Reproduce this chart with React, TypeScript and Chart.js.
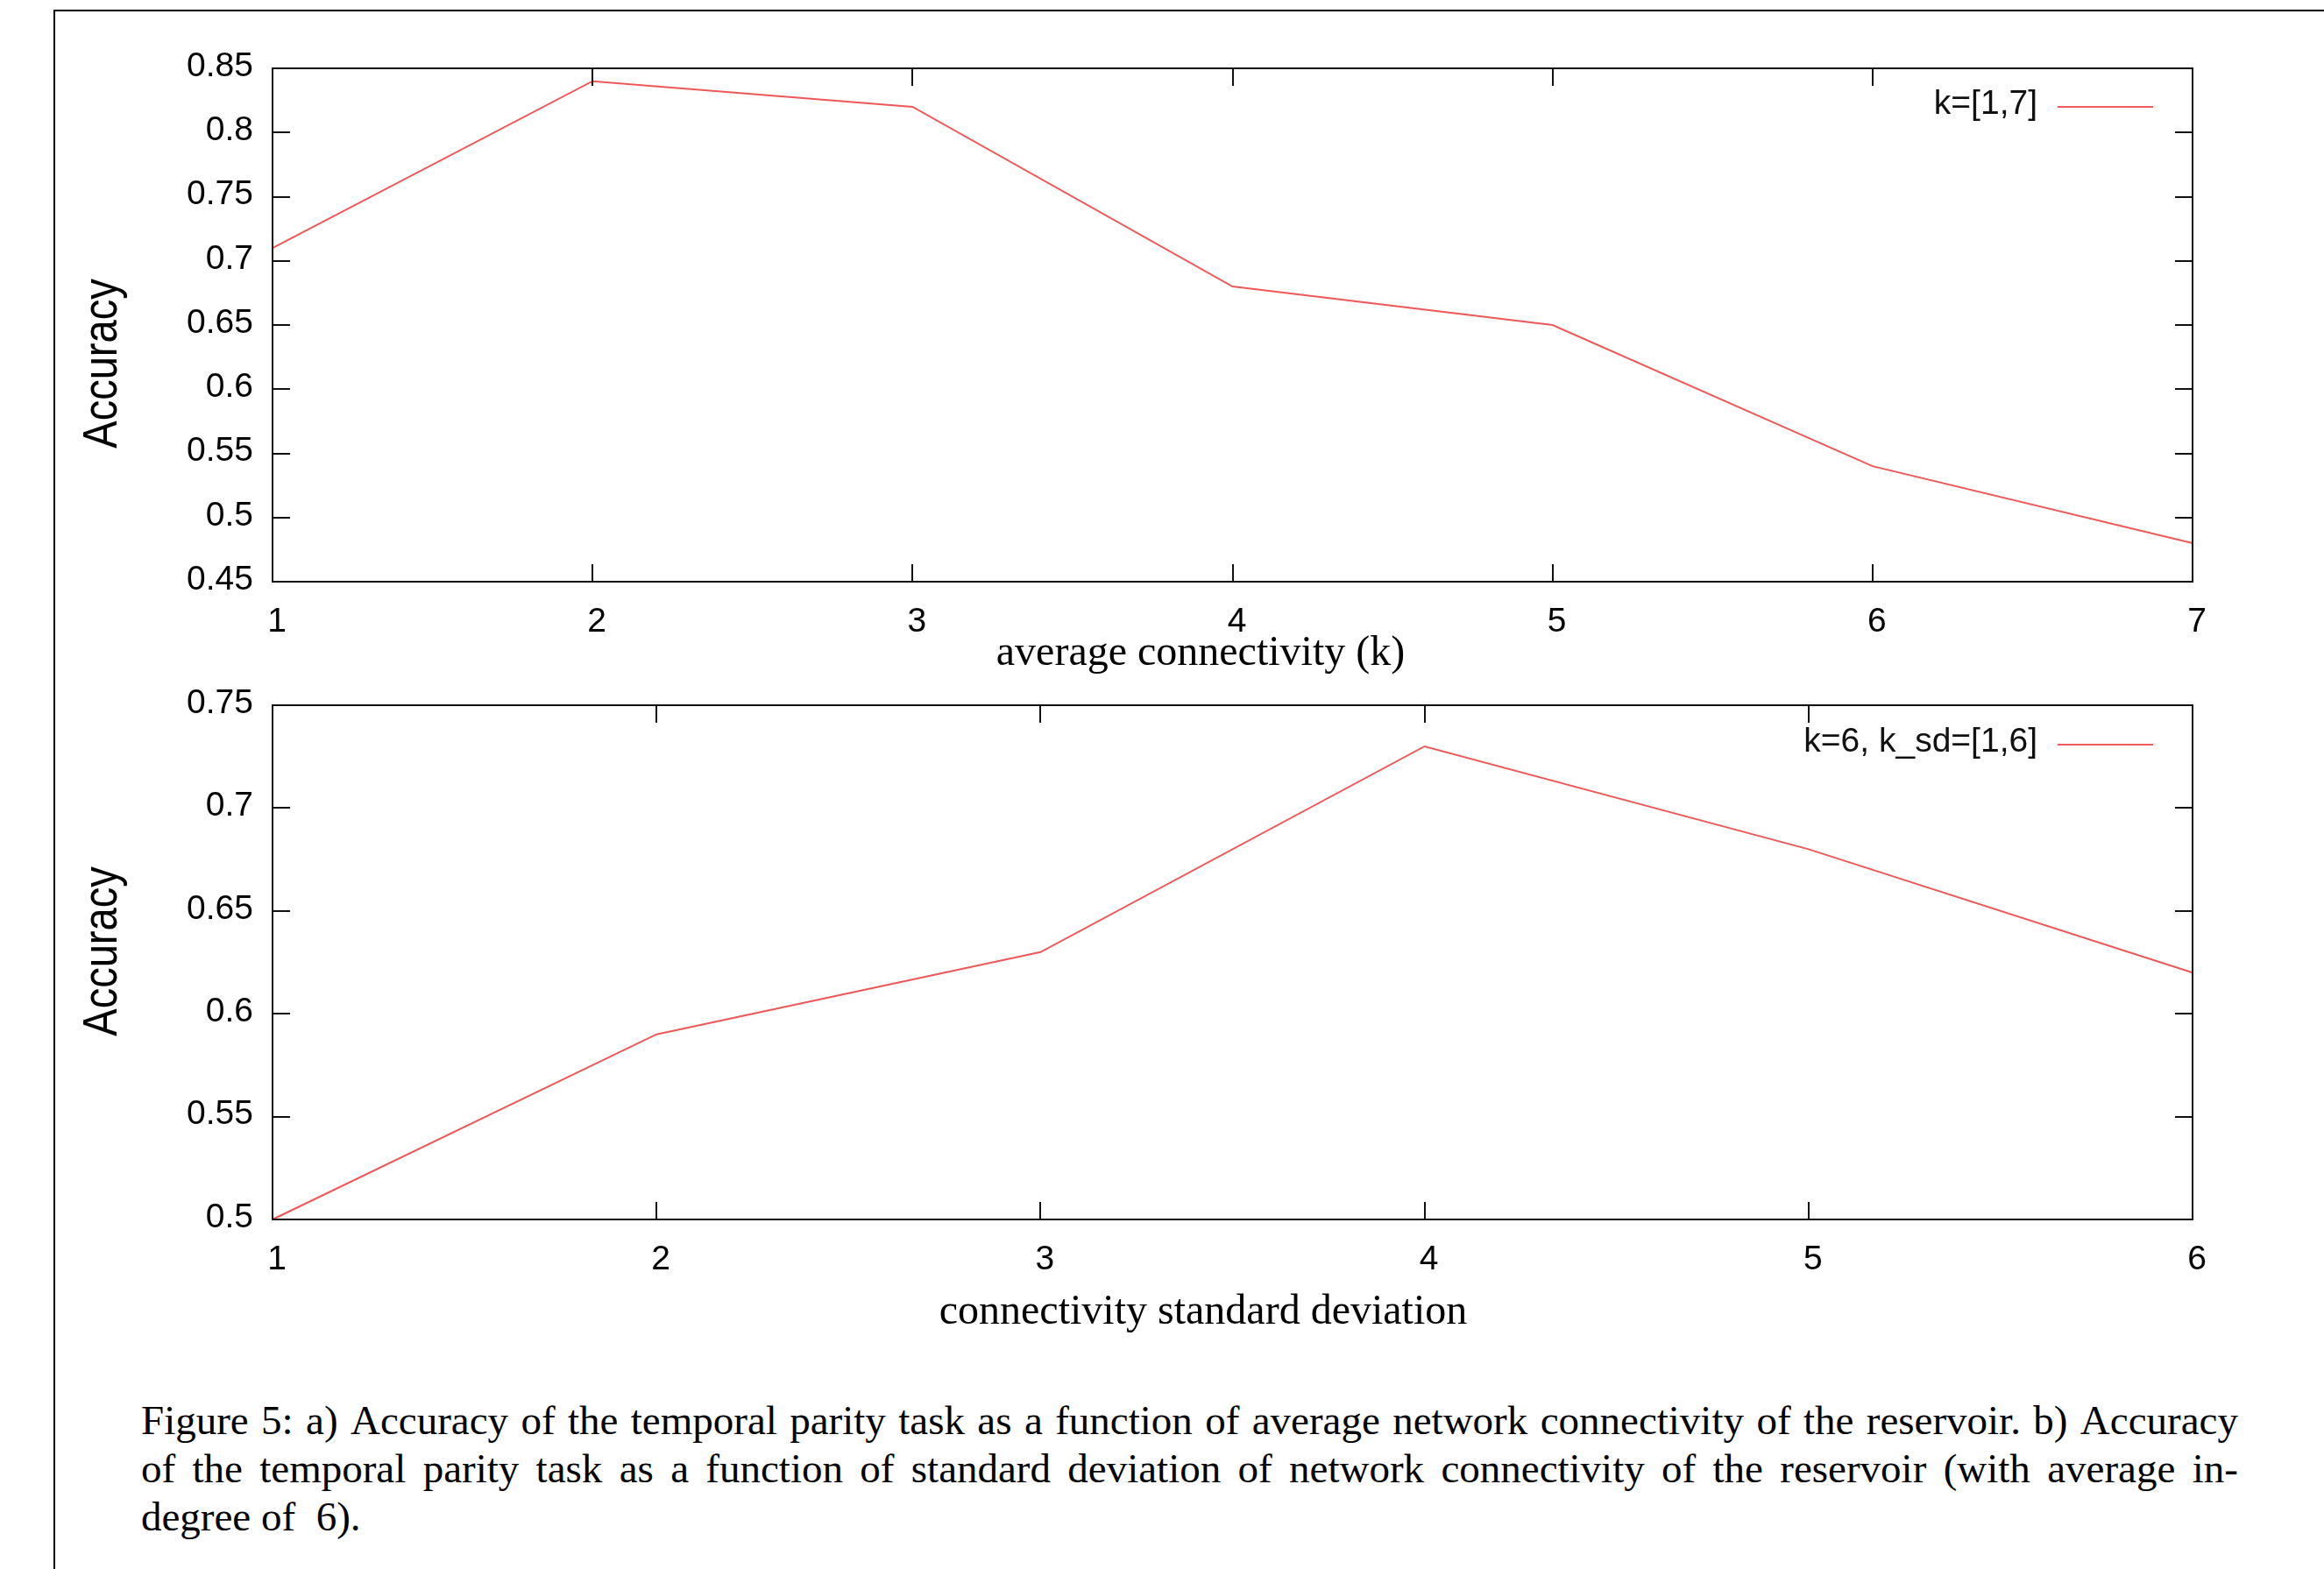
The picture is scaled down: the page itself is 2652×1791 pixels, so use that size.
import React, { useEffect, useRef } from 'react';
import { Chart, registerables } from 'chart.js';

Chart.register(...registerables);

// ---- data ----
const kValues = [1, 2, 3, 4, 5, 6, 7];
const accuracyByK = [0.71, 0.84, 0.82, 0.68, 0.65, 0.54, 0.48];
const kSdValues = [1, 2, 3, 4, 5, 6];
const accuracyByKSd = [0.5, 0.59, 0.63, 0.73, 0.68, 0.62];

const legendA = 'k=[1,7]';
const legendB = 'k=6, k_sd=[1,6]';
const xTitleA = 'average connectivity (k)';
const xTitleB = 'connectivity standard deviation';
const yTitle = 'Accuracy';

const captionLine1 =
  'Figure 5: a) Accuracy of the temporal parity task as a function of average network connectivity of the reservoir. b) Accuracy';
const captionLine2 =
  'of the temporal parity task as a function of standard deviation of network connectivity of the reservoir (with average in-';
const captionLine3 = 'degree of\u00a0 6).';

// ---- layout ----
const W = 2652;
const PLOT_LEFT = 311;
const PLOT_RIGHT = 2502;
const SANS = '"Liberation Sans", Arial, Helvetica, sans-serif';
const SERIF = '"Liberation Serif", "Times New Roman", Times, serif';
const LINE_COLOR = 'rgb(238,88,88)';

interface Panel {
  canvasTop: number;
  canvasHeight: number;
  plotTop: number;
  plotBottom: number;
  xs: number[];
  ys: number[];
  xMin: number;
  xMax: number;
  yMin: number;
  yMax: number;
  legend: string;
  legendY: number;
  xTitle: string;
  xTitleX: number;
  xTitleY: number;
  yTitleY: number;
}

const panelA: Panel = {
  canvasTop: 0,
  canvasHeight: 780,
  plotTop: 78,
  plotBottom: 664,
  xs: kValues,
  ys: accuracyByK,
  xMin: 1,
  xMax: 7,
  yMin: 0.45,
  yMax: 0.85,
  legend: legendA,
  legendY: 119,
  xTitle: xTitleA,
  xTitleX: 1370,
  xTitleY: 746,
  yTitleY: 415,
};

const panelB: Panel = {
  canvasTop: 740,
  canvasHeight: 840,
  plotTop: 65,
  plotBottom: 652,
  xs: kSdValues,
  ys: accuracyByKSd,
  xMin: 1,
  xMax: 6,
  yMin: 0.5,
  yMax: 0.75,
  legend: legendB,
  legendY: 107,
  xTitle: xTitleB,
  xTitleX: 1373,
  xTitleY: 758,
  yTitleY: 346,
};

function makeChart(canvas: HTMLCanvasElement, p: Panel) {
  const decorPlugin = {
    id: 'decor',
    afterDraw(chart: any) {
      const { ctx, chartArea: a, scales } = chart;
      ctx.save();
      // frame
      ctx.strokeStyle = '#111';
      ctx.lineWidth = 2;
      ctx.strokeRect(a.left, a.top, a.right - a.left, a.bottom - a.top);
      // inward ticks on all four sides
      const TL = 20;
      ctx.beginPath();
      scales.x.ticks.forEach((t: any) => {
        const px = Math.round(scales.x.getPixelForValue(t.value));
        if (px <= a.left + 2 || px >= a.right - 2) return;
        ctx.moveTo(px, a.bottom);
        ctx.lineTo(px, a.bottom - TL);
        ctx.moveTo(px, a.top);
        ctx.lineTo(px, a.top + TL);
      });
      scales.y.ticks.forEach((t: any) => {
        const py = Math.round(scales.y.getPixelForValue(t.value));
        if (py <= a.top + 2 || py >= a.bottom - 2) return;
        ctx.moveTo(a.left, py);
        ctx.lineTo(a.left + TL, py);
        ctx.moveTo(a.right, py);
        ctx.lineTo(a.right - TL, py);
      });
      ctx.stroke();

      // legend
      ctx.fillStyle = '#111';
      ctx.font = `39px ${SANS}`;
      ctx.textAlign = 'right';
      ctx.textBaseline = 'middle';
      ctx.fillText(p.legend, 2325, p.legendY);
      ctx.strokeStyle = LINE_COLOR;
      ctx.lineWidth = 2;
      ctx.beginPath();
      ctx.moveTo(2348, p.legendY + 3);
      ctx.lineTo(2457, p.legendY + 3);
      ctx.stroke();

      // x title
      ctx.fillStyle = '#000';
      ctx.font = `48px ${SERIF}`;
      ctx.textAlign = 'center';
      ctx.textBaseline = 'middle';
      ctx.fillText(p.xTitle, p.xTitleX, p.xTitleY);

      // y title (rotated, slightly condensed)
      ctx.save();
      ctx.translate(118, p.yTitleY);
      ctx.rotate(-Math.PI / 2);
      ctx.scale(0.84, 1);
      ctx.font = `56px ${SANS}`;
      ctx.fillStyle = '#000';
      ctx.textAlign = 'center';
      ctx.textBaseline = 'middle';
      ctx.fillText(yTitle, 0, 0);
      ctx.restore();

      ctx.restore();
    },
  };

  return new Chart(canvas, {
    type: 'line',
    data: {
      datasets: [
        {
          label: p.legend,
          data: p.xs.map((x, i) => ({ x, y: p.ys[i] })),
          borderColor: LINE_COLOR,
          borderWidth: 2,
          pointRadius: 0,
          tension: 0,
          fill: false,
          clip: 6,
        } as any,
      ],
    },
    options: {
      responsive: false,
      animation: false,
      events: [],
      layout: {
        padding: { top: p.plotTop, right: W - PLOT_RIGHT, left: 0, bottom: 0 },
      },
      plugins: {
        legend: { display: false },
        tooltip: { enabled: false },
        title: { display: false },
      },
      scales: {
        x: {
          type: 'linear',
          min: p.xMin,
          max: p.xMax,
          grid: { display: false, drawTicks: false, tickLength: 0 },
          border: { display: false },
          ticks: {
            stepSize: 1,
            padding: 23,
            labelOffset: 5,
            color: '#000',
            font: { family: SANS, size: 39 },
            maxRotation: 0,
          },
          afterFit: (s: any) => {
            s.height = p.canvasHeight - p.plotBottom;
          },
        },
        y: {
          type: 'linear',
          min: p.yMin,
          max: p.yMax,
          grid: { display: false, drawTicks: false, tickLength: 0 },
          border: { display: false },
          ticks: {
            stepSize: 0.05,
            padding: 22,
            labelOffset: -2,
            color: '#000',
            font: { family: SANS, size: 39 },
            callback: (v: any) => String(parseFloat(Number(v).toFixed(2))),
          },
          afterFit: (s: any) => {
            s.width = PLOT_LEFT;
          },
        },
      },
    },
    plugins: [decorPlugin],
  } as any);
}

const CAPTION_FONT = 47;

function JustifiedLine({ text, top }: { text: string; top: number }) {
  const words = text.split(' ');
  return (
    <div
      style={{
        position: 'absolute',
        left: 161,
        top,
        width: 2393,
        height: 55,
        display: 'flex',
        justifyContent: 'space-between',
        whiteSpace: 'nowrap',
        fontFamily: SERIF,
        fontSize: CAPTION_FONT,
        lineHeight: '55px',
        color: '#000',
      }}
    >
      {words.map((w, i) => (
        <span key={i}>{w}</span>
      ))}
    </div>
  );
}

export default function App() {
  const refA = useRef<HTMLCanvasElement>(null);
  const refB = useRef<HTMLCanvasElement>(null);

  useEffect(() => {
    const charts: Chart[] = [];
    if (refA.current) charts.push(makeChart(refA.current, panelA));
    if (refB.current) charts.push(makeChart(refB.current, panelB));
    return () => charts.forEach((c) => c.destroy());
  }, []);

  return (
    <div
      style={{
        position: 'fixed',
        left: 0,
        top: 0,
        width: W,
        height: 1791,
        background: '#fff',
        overflow: 'hidden',
      }}
    >
      <div
        style={{
          position: 'absolute',
          left: 61,
          top: 11,
          width: 3000,
          height: 3000,
          borderTop: '2px solid #000',
          borderLeft: '2px solid #000',
        }}
      />
      <canvas
        ref={refA}
        width={W}
        height={panelA.canvasHeight}
        style={{ position: 'absolute', left: 0, top: panelA.canvasTop, width: W, height: panelA.canvasHeight }}
      />
      <canvas
        ref={refB}
        width={W}
        height={panelB.canvasHeight}
        style={{ position: 'absolute', left: 0, top: panelB.canvasTop, width: W, height: panelB.canvasHeight }}
      />
      <JustifiedLine text={captionLine1} top={1594} />
      <JustifiedLine text={captionLine2} top={1649} />
      <div
        style={{
          position: 'absolute',
          left: 161,
          top: 1704,
          whiteSpace: 'pre',
          fontFamily: SERIF,
          fontSize: CAPTION_FONT,
          lineHeight: '55px',
          color: '#000',
        }}
      >
        {captionLine3}
      </div>
    </div>
  );
}
